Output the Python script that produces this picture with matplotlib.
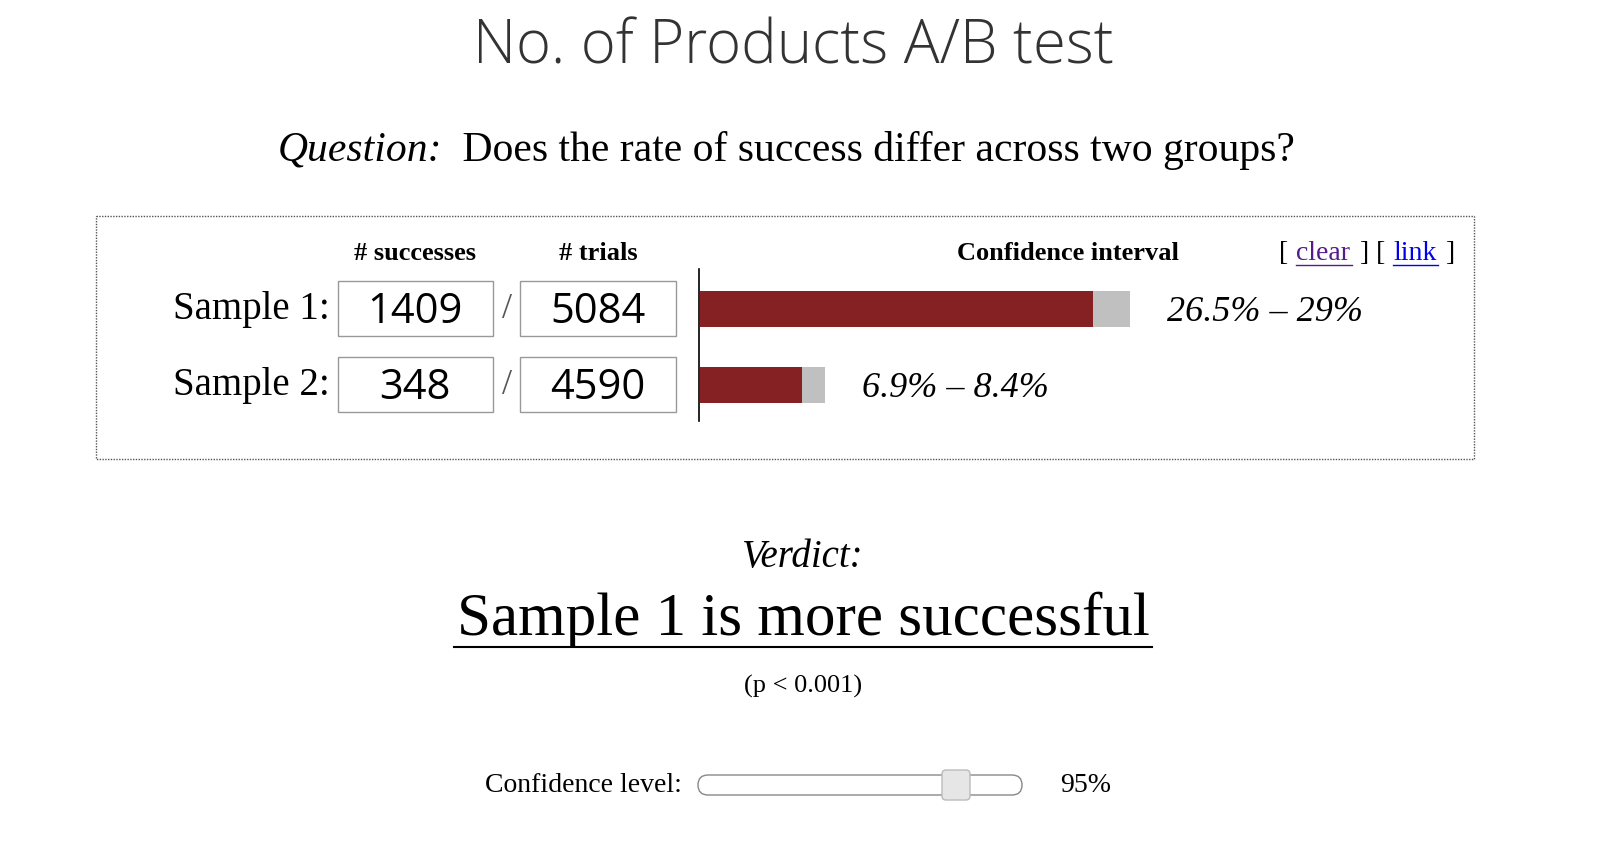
import matplotlib
matplotlib.use("Agg")
import matplotlib.pyplot as plt
from matplotlib.patches import Rectangle, FancyBboxPatch

title = "No. of Products A/B test"
samples = ["Sample 1:", "Sample 2:"]
successes = [1409, 348]
trials = [5084, 4590]
ci_low = [26.5, 6.9]
ci_high = [29.0, 8.4]
ci_labels = ["26.5% – 29%", "6.9% – 8.4%"]
confidence = "95%"
p_text = "(p < 0.001)"
verdict = "Sample 1 is more successful"

W, H = 1607, 845
fig = plt.figure(figsize=(W/100, H/100), dpi=100)
ax = fig.add_axes([0, 0, 1, 1]); ax.set_xlim(0, W); ax.set_ylim(H, 0); ax.axis("off")
serif = "Liberation Serif"

ax.text(793, 48, title, ha="center", va="center", fontsize=43, family="Open Sans", weight="light", color="#333333")
ax.text(278, 150, "Question:", ha="left", va="center", fontsize=30, family=serif, style="italic")
ax.text(452, 150, " Does the rate of success differ across two groups?", ha="left", va="center", fontsize=30, family=serif)

ax.add_patch(Rectangle((96, 217), 1378, 243, fill=False, ls=(0, (1, 1)), lw=1, ec="#555555"))
ax.text(415, 254, "# successes", ha="center", va="center", fontsize=19, family=serif, weight="bold")
ax.text(598, 254, "# trials", ha="center", va="center", fontsize=19, family=serif, weight="bold")
ax.text(1068, 254, "Confidence interval", ha="center", va="center", fontsize=19, family=serif, weight="bold")
ax.text(1279, 254, "[", ha="left", va="center", fontsize=20, family=serif)
ax.text(1296, 254, "clear", ha="left", va="center", fontsize=20, family=serif, color="#551a8b")
ax.plot([1296, 1352], [266, 266], color="#551a8b", lw=1)
ax.text(1360, 254, "] [", ha="left", va="center", fontsize=20, family=serif)
ax.text(1393, 254, "link", ha="left", va="center", fontsize=20, family=serif, color="#0000ee")
ax.plot([1393, 1438], [266, 266], color="#0000ee", lw=1)
ax.text(1445, 254, "]", ha="left", va="center", fontsize=20, family=serif)

rows = [310, 386]
for i, yc in enumerate(rows):
    ax.text(330, yc, samples[i], ha="right", va="center", fontsize=28, family=serif)
    ax.add_patch(Rectangle((338, yc-28), 155, 55, fill=False, ec="#999999", lw=1))
    ax.add_patch(Rectangle((520, yc-28), 156, 55, fill=False, ec="#999999", lw=1))
    ax.text(415, yc+2, str(successes[i]), ha="center", va="center", fontsize=30, family="Open Sans")
    ax.text(598, yc+2, str(trials[i]), ha="center", va="center", fontsize=30, family="Open Sans")
    ax.text(507, yc, "/", ha="center", va="center", fontsize=26, family=serif, color="#555555")
ax.plot([699, 699], [270, 422], color="black", lw=1.2)

# bars in % units: 0..29 spans 700..1130 px
bx = fig.add_axes([700/W, 0, 430/W, 1]); bx.set_xlim(0, 29); bx.set_ylim(H, 0); bx.axis("off")
for i, yc in enumerate(rows):
    bx.barh(yc, ci_low[i], height=36, color="#862123", left=0)
    bx.barh(yc, ci_high[i]-ci_low[i], height=36, color="#c0c0c0", left=ci_low[i])
    bx.text(ci_high[i] + 2.5, yc + 3, ci_labels[i], ha="left", va="center", fontsize=26, family=serif, style="italic", clip_on=False)

ax.text(803, 558, "Verdict:", ha="center", va="center", fontsize=28, family=serif, style="italic")
ax.text(803, 620, verdict, ha="center", va="center", fontsize=44, family=serif)
ax.plot([454, 1152], [648, 648], color="black", lw=1.5)
ax.text(803, 686, p_text, ha="center", va="center", fontsize=19, family=serif)

ax.text(682, 786, "Confidence level:", ha="right", va="center", fontsize=20, family=serif)
ax.add_patch(FancyBboxPatch((698, 776), 324, 20, boxstyle="round,pad=0,rounding_size=10", fc="white", ec="#888888", lw=1))
ax.add_patch(FancyBboxPatch((942, 771), 28, 30, boxstyle="round,pad=0,rounding_size=4", fc="#e6e6e6", ec="#bbbbbb", lw=1))
ax.text(1060, 786, confidence, ha="left", va="center", fontsize=20, family=serif)

fig.savefig("out.png", dpi=100)
